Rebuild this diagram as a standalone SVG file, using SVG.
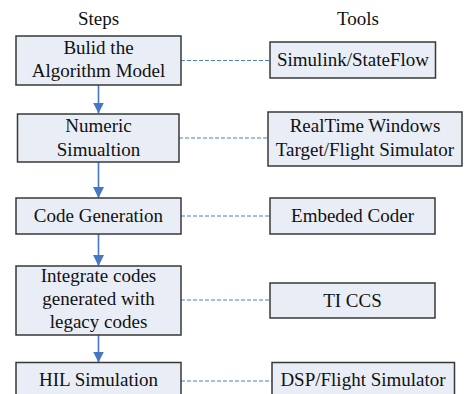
<svg xmlns="http://www.w3.org/2000/svg" width="465" height="394" viewBox="0 0 465 394">
<defs>
<style>
.box{fill:#E9EEF6;stroke:#383838;stroke-width:1.5}
.t{font-family:'Liberation Serif','DejaVu Serif',serif;font-size:19px;fill:#111;text-anchor:middle}
.arr{stroke:#4677C4;stroke-width:1.6;fill:none}
.dash{stroke:#4A7EC8;stroke-width:1.2;stroke-dasharray:4,2;fill:none}
</style>
<marker id="ah" viewBox="0 0 11 11" refX="11" refY="5.5" markerWidth="11" markerHeight="11" markerUnits="userSpaceOnUse" orient="auto">
<path d="M0,0 L11,5.5 L0,11 Z" fill="#4677C4"/>
</marker>
</defs>
<rect width="465" height="394" fill="#fff"/>
<g font-family="Liberation Serif, DejaVu Serif, serif">
<text class="t" x="98.5" y="25">Steps</text>
<text class="t" x="358" y="25">Tools</text>
</g>
<g id="connectors">
<line class="arr" x1="98.5" y1="85" x2="98.5" y2="113.5" marker-end="url(#ah)"/>
<line class="arr" x1="98.5" y1="162" x2="98.5" y2="198" marker-end="url(#ah)"/>
<line class="arr" x1="98.5" y1="234" x2="98.5" y2="266" marker-end="url(#ah)"/>
<line class="arr" x1="98.5" y1="335" x2="98.5" y2="362.5" marker-end="url(#ah)"/>
<line class="dash" x1="181" y1="60.5" x2="270" y2="60.5"/>
<line class="dash" x1="179" y1="138" x2="268" y2="138"/>
<line class="dash" x1="181" y1="216" x2="270" y2="216"/>
<line class="dash" x1="181" y1="300" x2="270" y2="300"/>
<line class="dash" x1="181" y1="381" x2="272" y2="381"/>
</g>
<g id="s1"><rect class="box" x="16" y="36" width="165" height="49"/>
<text class="t" x="98.5" y="54">Bulid the</text><text class="t" x="98.5" y="77">Algorithm Model</text></g>
<g id="s2"><rect class="box" x="17.5" y="114" width="161.5" height="48"/>
<text class="t" x="98.5" y="131.5">Numeric</text><text class="t" x="98.5" y="155.5">Simualtion</text></g>
<g id="s3"><rect class="box" x="16" y="198" width="165" height="36"/>
<text class="t" x="98.5" y="222">Code Generation</text></g>
<g id="s4"><rect class="box" x="16" y="266" width="165" height="69"/>
<text class="t" x="98.5" y="282">Integrate codes</text><text class="t" x="98.5" y="305">generated with</text><text class="t" x="98.5" y="328">legacy codes</text></g>
<g id="s5"><rect class="box" x="16" y="362.5" width="165" height="40"/>
<text class="t" x="98.5" y="386">HIL Simulation</text></g>
<g id="t1"><rect class="box" x="270" y="42" width="165.5" height="36"/>
<text class="t" x="353" y="66">Simulink/StateFlow</text></g>
<g id="t2"><rect class="box" x="268" y="112" width="194" height="54"/>
<text class="t" x="365" y="131.5">RealTime Windows</text><text class="t" x="365" y="155.5">Target/Flight Simulator</text></g>
<g id="t3"><rect class="box" x="270" y="198" width="165" height="36"/>
<text class="t" x="352.5" y="222">Embeded Coder</text></g>
<g id="t4"><rect class="box" x="270" y="283" width="165" height="35"/>
<text class="t" x="352.5" y="307">TI CCS</text></g>
<g id="t5"><rect class="box" x="272" y="362.5" width="182.5" height="40"/>
<text class="t" x="363" y="386">DSP/Flight Simulator</text></g>
</svg>
